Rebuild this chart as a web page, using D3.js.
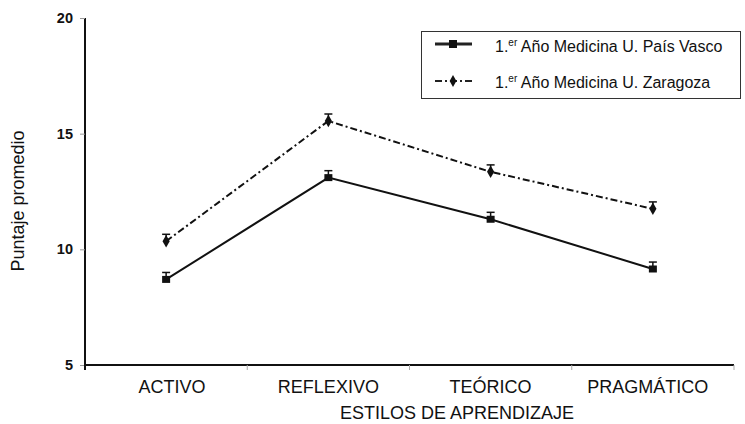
<!DOCTYPE html>
<html>
<head>
<meta charset="utf-8">
<script src="https://cdn.jsdelivr.net/npm/d3@7"></script>
<style>
  html, body { margin: 0; padding: 0; background: #fff; }
  svg { display: block; font-family: "Liberation Sans", Arial, sans-serif; }
</style>
</head>
<body>
<svg id="chart" width="745" height="424"></svg>
<script>
// Learning-style scores by group
const categories = ["ACTIVO", "REFLEXIVO", "TEÓRICO", "PRAGMÁTICO"];
const paisVasco = [8.7, 13.1, 11.3, 9.15];
const zaragoza = [10.35, 15.55, 13.35, 11.75];
const paisVascoErr = [0.3, 0.3, 0.3, 0.3];
const zaragozaErr = [0.3, 0.3, 0.3, 0.3];
const yTicks = [5, 10, 15, 20];
const seriesNames = ["1.", "er", " Año Medicina U. País Vasco", " Año Medicina U. Zaragoza"];

const svg = d3.select("#chart");

const x = d3.scaleBand().domain(categories).range([85, 734]).padding(0);
const y = d3.scaleLinear().domain([5, 20]).range([365, 18]);

// y axis
const yAxis = svg.append("g").attr("transform", "translate(85,0)")
  .call(d3.axisLeft(y).tickValues(yTicks).tickSize(5).tickPadding(7));
yAxis.select(".domain").attr("stroke", "#111").attr("stroke-width", 2)
  .attr("d", `M0,${y(20)}V${y(5)}`);
yAxis.selectAll(".tick line").attr("stroke", "#999");
yAxis.selectAll(".tick text").attr("font-size", 14.5).attr("font-weight", "bold")
  .attr("fill", "#111").attr("font-family", "Liberation Sans, Arial, sans-serif");

// x axis with ticks at band boundaries
const xAxisG = svg.append("g").attr("transform", `translate(0,${y(5)})`);
xAxisG.append("line").attr("x1", 85).attr("x2", 734).attr("y1", 0).attr("y2", 0)
  .attr("stroke", "#111").attr("stroke-width", 2);
xAxisG.selectAll("line.bt").data(categories).enter().append("line").attr("class", "bt")
  .attr("x1", d => x(d) + x.bandwidth()).attr("x2", d => x(d) + x.bandwidth())
  .attr("y1", 0).attr("y2", 5).attr("stroke", "#aaa").attr("stroke-width", 1);
xAxisG.append("line").attr("x1", 85).attr("x2", 85).attr("y1", 0).attr("y2", 5)
  .attr("stroke", "#111").attr("stroke-width", 2);
xAxisG.selectAll("text.cat").data(categories).enter().append("text").attr("class", "cat")
  .attr("x", d => x(d) + x.bandwidth() / 2 + (d === "ACTIVO" ? 6 : (d === "PRAGMÁTICO" ? -5 : 0)))
  .attr("y", 28).attr("text-anchor", "middle").attr("font-size", 18).attr("fill", "#111")
  .text(d => d);

// axis titles
svg.append("text").attr("x", 457).attr("y", 419).attr("text-anchor", "middle")
  .attr("font-size", 18).attr("fill", "#111").text("ESTILOS DE APRENDIZAJE");
svg.append("text").attr("transform", "translate(24,201) rotate(-90)")
  .attr("text-anchor", "middle").attr("font-size", 18).attr("fill", "#111").text("Puntaje promedio");

const cx = d => x(d) + x.bandwidth() / 2;
const lineGen = vals => d3.line().x((d, i) => cx(categories[i])).y(d => y(d))(vals);

function drawSeries(vals, errs, dash, shape) {
  const g = svg.append("g");
  g.append("path").attr("d", lineGen(vals)).attr("fill", "none").attr("stroke", "#111")
    .attr("stroke-width", 2).attr("stroke-dasharray", dash);
  vals.forEach((v, i) => {
    const px = cx(categories[i]);
    const top = y(v + errs[i]);
    g.append("line").attr("x1", px).attr("x2", px).attr("y1", y(v)).attr("y2", top)
      .attr("stroke", "#111").attr("stroke-width", 1.5);
    g.append("line").attr("x1", px - 4).attr("x2", px + 4).attr("y1", top).attr("y2", top)
      .attr("stroke", "#111").attr("stroke-width", 1.5);
    if (shape === "square") {
      g.append("rect").attr("x", px - 4).attr("y", y(v) - 3.5).attr("width", 8).attr("height", 7).attr("fill", "#111");
    } else {
      g.append("path").attr("d", d3.symbol(d3.symbolDiamond, 45)()).attr("transform", `translate(${px},${y(v)})`).attr("fill", "#111");
    }
  });
}

drawSeries(zaragoza, zaragozaErr, "7,3,2,3", "diamond");
drawSeries(paisVasco, paisVascoErr, null, "square");

// legend
const lg = svg.append("g");
lg.append("rect").attr("x", 421.5).attr("y", 31.5).attr("width", 319).attr("height", 67)
  .attr("fill", "#fff").attr("stroke", "#333").attr("stroke-width", 1);
lg.append("line").attr("x1", 435).attr("x2", 472).attr("y1", 44).attr("y2", 44).attr("stroke", "#222").attr("stroke-width", 3);
lg.append("rect").attr("x", 449).attr("y", 40).attr("width", 8).attr("height", 8).attr("fill", "#111");
lg.append("line").attr("x1", 435).attr("x2", 472).attr("y1", 81).attr("y2", 81).attr("stroke", "#222").attr("stroke-width", 2).attr("stroke-dasharray", "7,3,2,3");
lg.append("path").attr("d", d3.symbol(d3.symbolDiamond, 40)()).attr("transform", "translate(453,81)").attr("fill", "#111");
[[seriesNames[2], 52], [seriesNames[3], 88]].forEach(([label, by]) => {
  const t = lg.append("text").attr("x", 495).attr("y", by).attr("font-size", 16).attr("fill", "#111");
  t.append("tspan").text(seriesNames[0]);
  t.append("tspan").attr("font-size", 10).attr("dy", -6).text(seriesNames[1]);
  t.append("tspan").attr("dy", 6).text(label);
});
</script>
</body>
</html>
